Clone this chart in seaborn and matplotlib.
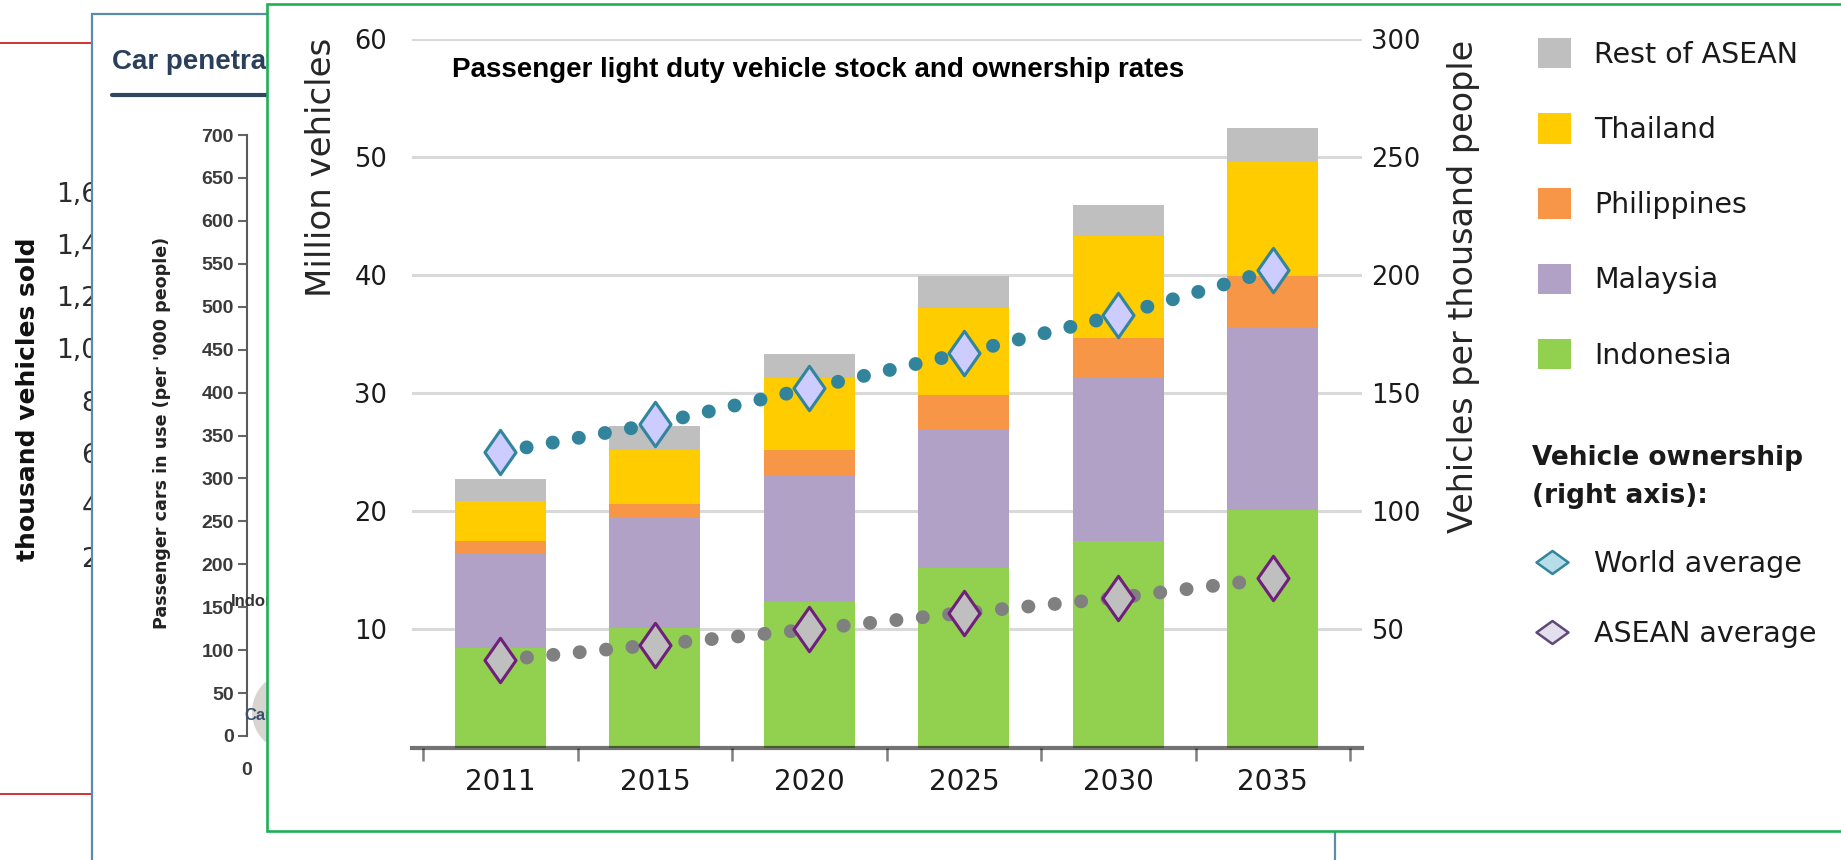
import numpy as np
import matplotlib
matplotlib.use("Agg")
import matplotlib.pyplot as plt
from matplotlib import font_manager
from matplotlib.patches import Patch, Rectangle, Circle
from matplotlib.lines import Line2D
from matplotlib.path import Path
from matplotlib.ticker import FuncFormatter
import seaborn as sns

# main chart: passenger LDV stock (million vehicles), stacked bottom -> top
years = ["2011", "2015", "2020", "2025", "2030", "2035"]
indonesia = [8.4, 10.1, 12.35, 15.2, 17.5, 20.1]
malaysia = [8.0, 9.4, 10.65, 11.7, 13.8, 15.5]
philippines = [1.1, 1.1, 2.2, 2.9, 3.4, 4.3]
thailand = [3.4, 4.6, 6.1, 7.4, 8.6, 9.7]
rest_asean = [1.8, 2.0, 2.0, 2.7, 2.6, 2.8]
# ownership, vehicles per thousand people (right axis)
world_avg = [125, 137, 152, 167, 183, 202]
asean_avg = [37, 43.5, 50, 57, 63.4, 71.6]

left_ticks = [10, 20, 30, 40, 50, 60]
right_ticks = [50, 100, 150, 200, 250, 300]

# charts partly hidden behind the main one
sold_ticks = [200, 400, 600, 800, 1000, 1200, 1400, 1600]
pen_ticks = list(range(0, 701, 50))

series_names = ["Indonesia", "Malaysia", "Philippines", "Thailand", "Rest of ASEAN"]
series_colors = ["#92D050", "#B2A1C7", "#F79646", "#FFCC00", "#BFBFBF"]

sns.set_style("white")
plt.rcParams["font.family"] = ["DejaVu Sans"]

installed = {f.name for f in font_manager.fontManager.ttflist}
if "Liberation Sans Narrow" in installed:
    narrow = ["Liberation Sans Narrow", "DejaVu Sans"]
    sold_size, pen_size = 25, 17.5
else:
    narrow = ["DejaVu Sans"]
    sold_size, pen_size = 18, 12.6
arial = ["Liberation Sans", "DejaVu Sans"]

W, H = 1841, 860
fig = plt.figure(figsize=(W / 100, H / 100), dpi=100)


def fr(x0, y0, x1, y1):
    return [x0 / W, 1 - y1 / H, (x1 - x0) / W, (y1 - y0) / H]


# --- far left chart (thousand vehicles sold)
sold = fig.add_axes(fr(140, 140, 300, 609), zorder=0)
sold.patch.set_visible(False)
sold.set_ylim(0, 1800)
sold.set_yticks(sold_ticks)
sold.yaxis.set_major_formatter(FuncFormatter(lambda v, p: f"{v:,.0f}"))
sold.set_xticks([])
sold.tick_params(axis="y", length=0, pad=6, labelsize=19, labelcolor="#2b2b2b")
for s in sold.spines.values():
    s.set_visible(False)
sold.set_ylabel("thousand vehicles sold", family=narrow, weight="bold",
                size=sold_size, va="center", color="#111111")
sold.yaxis.set_label_coords(-0.70, 0.448)

# --- background layer with blue framed chart
bg = fig.add_axes([0, 0, 1, 1], zorder=1)
bg.set_xlim(0, W)
bg.set_ylim(H, 0)
bg.axis("off")
bg.patch.set_visible(False)
T = bg.transData
bg.plot([0, 300], [43, 43], color="#CC2222", lw=1.3, zorder=1)
bg.plot([0, 300], [794, 794], color="#CC2222", lw=1.3, zorder=1)
bg.add_patch(Rectangle((92, 14), 1243, 900, fc="white", ec="#5B8BAA", lw=1.6, zorder=2))
bg.text(112, 62, "Car penetrat", fontfamily=arial, weight="bold",
        size=20, color="#2A3F5C", va="center", zorder=3)
bg.plot([112, 700], [95, 95], color="#2E4760", lw=3, zorder=3)

car = fig.add_axes(fr(247, 135, 600, 736), zorder=2)
car.patch.set_visible(False)
car.set_ylim(0, 700)
car.set_xlim(0, 10)
car.set_yticks(pen_ticks)
car.set_xticks([0])
for side in ["top", "right", "bottom"]:
    car.spines[side].set_visible(False)
car.spines["left"].set_color("#5a5a5a")
car.spines["left"].set_linewidth(1.5)
car.tick_params(axis="y", left=True, length=6.5, width=1.5, color="#666666", pad=3)
car.tick_params(axis="x", length=0, pad=19)
for lab in car.get_yticklabels() + car.get_xticklabels():
    lab.set_fontfamily(arial)
    lab.set_fontweight("bold")
    lab.set_fontsize(14)
    lab.set_color("#3a3a3a")
car.set_ylabel("Passenger cars in use (per '000 people)", family=narrow,
               weight="bold", size=pen_size, va="center", color="#222222")
car.yaxis.set_label_coords(-0.2408, 0.504)
car.add_patch(Circle((292, 712), 40, fc="#D8D4CF", ec="none", transform=T, clip_on=False))
car.text(231, 601, "Indonesia", transform=T, fontfamily=arial, weight="bold",
         size=12, color="#333333", va="center", clip_on=False)
car.text(244, 716, "Cambodia", transform=T, fontfamily=arial, weight="bold",
         size=12, color="#3A5070", va="center", clip_on=False)

# --- green framed main panel
fg = fig.add_axes([0, 0, 1, 1], zorder=3)
fg.set_xlim(0, W)
fg.set_ylim(H, 0)
fg.axis("off")
fg.patch.set_visible(False)
fg.add_patch(Rectangle((267, 4), 1700, 827, fc="white", ec="#1DB056", lw=1.9))

ax = fig.add_axes(fr(411.7, 38.7, 1361.5, 747.5), zorder=4)
ax.patch.set_visible(False)

stack = np.cumsum(np.array([indonesia, malaysia, philippines, thailand, rest_asean]), axis=0)
for i in reversed(range(len(series_names))):
    sns.barplot(x=years, y=stack[i], color=series_colors[i], width=0.59,
                saturation=1, errorbar=None, linewidth=0, ax=ax)

ax.set_ylim(0, 60)
ax.set_yticks(left_ticks)
ax.yaxis.grid(True, color="#D9D9D9", lw=2.2)
ax.set_axisbelow(True)
ax.set_xticks(np.arange(len(years) + 1) - 0.5, minor=True)
ax.tick_params(axis="x", which="minor", bottom=True, direction="out", length=9.5,
               width=1.8, color="#7F7F7F")
ax.tick_params(axis="x", which="major", length=0, pad=14.5, labelsize=20, labelcolor="#1a1a1a")
ax.tick_params(axis="y", length=0, pad=17.5, labelsize=18.5, labelcolor="#1a1a1a")
for side in ["top", "left", "right"]:
    ax.spines[side].set_visible(False)
ax.spines["bottom"].set_color((0, 0, 0, 0.55))
ax.spines["bottom"].set_linewidth(3)
ax.set_xlabel("")
ax.set_ylabel("Million vehicles", size=24.5, va="center", color="#262626")
ax.yaxis.set_label_coords(-0.0945, 0.818)
ax.text(0.0424, 0.956, "Passenger light duty vehicle stock and ownership rates",
        transform=ax.transAxes, fontfamily=arial, weight="bold", size=20,
        va="center", color="black")

ax2 = ax.twinx()
ax2.set_ylim(0, 300)
ax2.set_yticks(right_ticks)
ax2.tick_params(axis="y", length=0, pad=7, labelsize=18.5, labelcolor="#1a1a1a")
for s in ax2.spines.values():
    s.set_visible(False)
ax2.set_ylabel("Vehicles per thousand people", size=24, rotation=90, va="center", color="#262626")
ax2.yaxis.set_label_coords(1.1075, 0.651)

tall = Path([(0, 1), (0.7, 0), (0, -1), (-0.7, 0), (0, 1)],
            [Path.MOVETO, Path.LINETO, Path.LINETO, Path.LINETO, Path.CLOSEPOLY])
wide = Path([(-1, 0), (0, 0.72), (1, 0), (0, -0.72), (-1, 0)],
            [Path.MOVETO, Path.LINETO, Path.LINETO, Path.LINETO, Path.CLOSEPOLY])

xpos = np.arange(len(years))
ax2.plot(xpos, world_avg, color="#31849B", lw=10, linestyle=(0, (0.01, 1.9)),
         dash_capstyle="round", zorder=2)
ax2.plot(xpos, asean_avg, color="#808080", lw=10, linestyle=(0, (0.01, 1.9)),
         dash_capstyle="round", zorder=2)
ax2.plot(xpos, world_avg, ls="none", marker=tall, ms=32, mfc="#CCCCFF",
         mec="#31859C", mew=2.2, zorder=3)
ax2.plot(xpos, asean_avg, ls="none", marker=tall, ms=32, mfc="#BFBFBF",
         mec="#70207A", mew=2.2, zorder=3)

# legends
bar_handles = [Patch(fc=series_colors[i], ec="none") for i in reversed(range(len(series_names)))]
bar_labels = list(reversed(series_names))
fig.legend(bar_handles, bar_labels, loc="upper left", bbox_to_anchor=(1538 / W, 1 - 38 / H),
           frameon=False, fontsize=20.5, labelcolor="#1a1a1a", handlelength=1.16,
           handleheight=1.27, handletextpad=0.8, labelspacing=1.56, borderpad=0,
           borderaxespad=0)
own_handles = [
    Line2D([], [], ls="none", marker=wide, ms=23, mfc="#B7DEE8", mec="#31859C", mew=1.8),
    Line2D([], [], ls="none", marker=wide, ms=23, mfc="#E4DFEC", mec="#5F497A", mew=1.8),
]
leg2 = fig.legend(own_handles, ["World average", "ASEAN average"], loc="upper left",
                  bbox_to_anchor=(1532 / W, 1 - 445 / H), frameon=False, fontsize=20.5,
                  labelcolor="#1a1a1a", title="Vehicle ownership\n(right axis):",
                  title_fontproperties={"weight": "bold", "size": 19}, alignment="left",
                  handlelength=1.4, handletextpad=0.77, labelspacing=1.45, borderpad=0,
                  borderaxespad=0)
leg2.get_title().set_linespacing(1.6)
leg2.get_title().set_color("#1a1a1a")

fig.savefig("out.png", dpi=100)
